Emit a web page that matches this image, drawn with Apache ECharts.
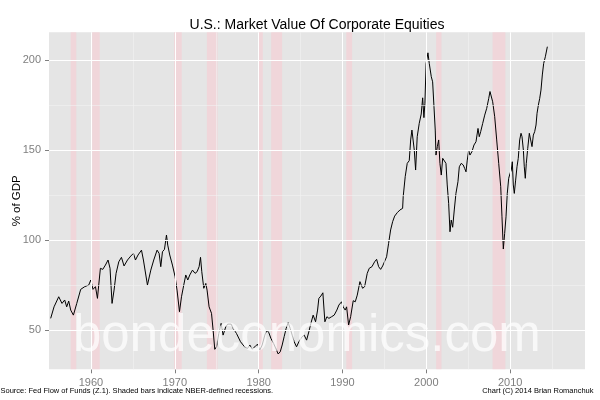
<!DOCTYPE html>
<html>
<head>
<meta charset="utf-8">
<script src="https://cdn.jsdelivr.net/npm/echarts@6/dist/echarts.min.js"></script>
<style>
html,body{margin:0;padding:0;background:#fff;}
#chart{width:600px;height:400px;}
</style>
</head>
<body>
<div id="chart"></div>
<script>
// ---- data ----
const years = [
1955.20,1955.60,1956.16,1956.55,1956.87,1957.11,1957.35,1957.59,1957.91,1958.31,
1958.78,1959.26,1959.74,1959.98,1960.25,1960.54,1960.78,1960.93,1961.13,1961.41,
1961.73,1962.04,1962.28,1962.52,1962.76,1963.00,1963.32,1963.64,1963.95,1964.36,
1964.75,1965.07,1965.31,1965.62,1966.03,1966.26,1966.74,1967.14,1967.49,1967.89,
1968.13,1968.33,1968.53,1968.77,1969.01,1969.16,1969.40,1969.72,1970.04,1970.27,
1970.56,1970.80,1971.07,1971.31,1971.55,1971.79,1972.11,1972.42,1972.66,1972.90,
1973.07,1973.22,1973.46,1973.70,1973.85,1974.09,1974.38,1974.57,1974.77,1974.98,
1975.25,1975.53,1975.76,1976.09,1976.32,1976.72,1976.96,1977.36,1977.84,1978.32,
1978.68,1978.95,1979.22,1979.55,1979.87,1980.14,1980.42,1980.74,1980.98,1981.22,
1981.46,1981.78,1982.09,1982.33,1982.57,1982.81,1983.04,1983.28,1983.52,1983.76,
1984.00,1984.24,1984.52,1984.80,1985.12,1985.43,1985.72,1985.99,1986.23,1986.50,
1986.79,1987.03,1987.18,1987.42,1987.66,1987.90,1988.14,1988.38,1988.70,1989.01,
1989.33,1989.57,1989.89,1990.08,1990.32,1990.49,1990.73,1990.97,1991.28,1991.52,
1991.76,1992.08,1992.40,1992.64,1992.95,1993.19,1993.51,1993.83,1994.07,1994.31,
1994.55,1994.79,1995.02,1995.26,1995.50,1995.74,1995.98,1996.22,1996.53,1996.85,
1997.17,1997.24,1997.48,1997.72,1997.96,1998.13,1998.28,1998.44,1998.56,1998.72,
1998.91,1999.15,1999.39,1999.56,1999.71,1999.83,1999.97,2000.19,2000.35,2000.59,
2000.75,2000.91,2001.06,2001.15,2001.31,2001.47,2001.62,2001.78,2001.95,2002.18,
2002.34,2002.49,2002.66,2002.82,2002.97,2003.14,2003.33,2003.53,2003.77,2003.93,
2004.16,2004.40,2004.57,2004.73,2004.88,2005.05,2005.20,2005.44,2005.68,2005.92,
2006.16,2006.31,2006.48,2006.72,2006.96,2007.20,2007.44,2007.59,2007.75,2007.91,
2008.15,2008.39,2008.63,2008.87,2009.02,2009.18,2009.34,2009.50,2009.65,2009.82,
2009.98,2010.13,2010.25,2010.37,2010.49,2010.65,2010.81,2010.96,2011.13,2011.29,
2011.41,2011.57,2011.68,2011.80,2011.92,2012.09,2012.28,2012.44,2012.60,2012.76,
2012.92,2013.08,2013.20,2013.36,2013.52,2013.67,2013.83,2013.99,2014.19,2014.43
];
const equitiesPctGdp = [
56.5,62.9,68.5,64.8,66.7,62.9,66.1,61.1,58.3,64.8,
72.6,74.1,75.0,77.8,72.6,74.1,67.6,75.0,84.3,83.7,
86.1,88.9,84.3,64.8,72.2,81.5,87.9,90.4,85.6,88.9,
91.1,92.6,88.9,91.7,94.4,88.9,75.0,83.3,88.9,94.4,
92.6,85.2,93.5,94.8,102.8,97.2,91.7,86.1,79.6,72.2,
60.2,68.5,75.0,80.6,77.8,80.6,83.3,81.5,82.4,85.2,
90.4,82.4,73.2,75.9,72.2,62.9,59.3,50.0,39.3,40.7,
48.1,53.7,47.2,51.9,53.3,53.3,50.9,48.1,43.5,40.7,
39.8,41.7,39.4,40.7,42.2,38.9,41.7,47.2,50.0,48.5,
45.4,42.6,39.3,36.7,37.9,41.7,46.3,50.9,54.1,50.9,
47.2,43.5,40.7,43.5,45.9,47.2,44.4,49.1,53.7,58.3,
54.6,61.1,67.6,68.9,70.7,54.6,57.4,56.5,57.4,58.3,
61.1,63.9,65.7,62.9,61.1,62.9,52.8,57.4,66.3,65.7,
69.4,76.9,73.2,74.1,81.5,84.3,85.2,87.9,89.3,85.2,
83.7,85.6,84.8,90.7,98.2,105.6,110.2,113.3,115.2,116.7,
117.6,124.1,135.2,142.6,144.1,155.6,161.1,162.0,150.0,138.9,
157.4,164.8,170.0,179.0,168.0,176.0,198.0,204.0,198.0,190.7,
187.9,174.1,161.1,147.2,151.9,155.6,142.6,136.1,145.4,146.3,
142.6,130.6,120.4,104.6,111.1,107.1,116.7,125.9,132.4,140.7,
142.6,141.7,139.8,137.9,144.4,150.0,147.2,149.1,152.8,154.6,
162.0,157.4,160.2,164.8,169.4,173.2,178.7,182.5,182.4,176.8,
168.5,155.6,142.6,129.6,112.9,95.0,103.7,112.9,125.9,134.3,
137.0,138.9,143.5,130.6,125.9,133.3,140.7,145.4,155.6,159.3,
157.4,150.0,140.7,134.3,142.6,150.9,159.3,155.6,151.9,158.3,
160.2,163.9,170.4,175.0,178.7,183.3,191.7,198.1,201.8,207.4
];
// NBER recessions (start, end) in fractional years
const recessionStart = [1957.58,1960.15,1969.92,1973.83,1980.00,1981.50,1990.45,2001.17,2007.90];
const recessionEnd   = [1958.25,1961.05,1970.83,1975.10,1980.50,1982.80,1991.15,2001.80,2009.42];
// axis ticks and grid lines
const xTickLabels = [1960,1970,1980,1990,2000,2010];
const xMinorGrid  = [1965,1975,1985,1995,2005,2015];
const yTickLabels = [50,100,150,200];
const yMinorGrid  = [75,125,175];

const titleText = 'U.S.: Market Value Of Corporate Equities';
const yAxisTitle = '% of GDP';
const sourceText = 'Source: Fed Flow of Funds (Z.1). Shaded bars indicate NBER-defined recessions.';
const creditText = 'Chart (C) 2014 Brian Romanchuk';
const watermark = 'bondeconomics.com';

// ---- build ----
const lineData = years.map((y, i) => [y, equitiesPctGdp[i]]);
const FONT = '"Liberation Sans", Arial, Helvetica, sans-serif';

const gridLines = []
  .concat(xMinorGrid.map(v => ({xAxis: v, lineStyle: {color: '#F2F2F2', width: 0.6, type: 'solid'}})))
  .concat(yMinorGrid.map(v => ({yAxis: v, lineStyle: {color: '#F2F2F2', width: 0.6, type: 'solid'}})))
  .concat(xTickLabels.map(v => ({xAxis: v, lineStyle: {color: '#FFFFFF', width: 1, type: 'solid'}})))
  .concat(yTickLabels.map(v => ({yAxis: v, lineStyle: {color: '#FFFFFF', width: 1, type: 'solid'}})));

const recessionAreas = recessionStart.map((s, i) => [{xAxis: s}, {xAxis: recessionEnd[i]}]);

const chart = echarts.init(document.getElementById('chart'), null, {renderer: 'canvas'});
chart.setOption({
  animation: false,
  backgroundColor: '#FFFFFF',
  textStyle: {fontFamily: FONT},
  grid: {left: 49, right: 15, top: 32.3, bottom: 30.7, show: true, backgroundColor: '#E5E5E5', borderWidth: 0,
         containLabel: false, outerBoundsMode: 'none'},
  xAxis: {
    type: 'value', min: 1955.0, max: 2018.92,
    axisLine: {show: false},
    splitLine: {show: false},
    axisTick: {show: true, length: 4, lineStyle: {color: '#7F7F7F', width: 1}, customValues: xTickLabels},
    axisLabel: {customValues: xTickLabels, color: '#7F7F7F', fontSize: 11, fontFamily: FONT, margin: 8,
      formatter: v => String(v)}
  },
  yAxis: {
    type: 'value', min: 28.2, max: 215.4,
    name: yAxisTitle, nameLocation: 'middle', nameRotate: 90, nameGap: 26, nameMoveOverlap: false,
    nameTextStyle: {color: '#000000', fontSize: 11.5, fontFamily: FONT},
    axisLine: {show: false},
    splitLine: {show: false},
    axisTick: {show: true, length: 4, lineStyle: {color: '#7F7F7F', width: 1}, customValues: yTickLabels},
    axisLabel: {customValues: yTickLabels, color: '#7F7F7F', fontSize: 11, fontFamily: FONT, margin: 8}
  },
  series: [
    {
      type: 'line', data: lineData, z: 1, silent: true, symbol: 'none',
      lineStyle: {opacity: 0}, tooltip: {show: false},
      markLine: {silent: true, symbol: ['none', 'none'], label: {show: false}, animation: false, data: gridLines}
    },
    {
      type: 'line', data: lineData, z: 2, silent: true, symbol: 'none',
      lineStyle: {opacity: 0},
      markArea: {silent: true, itemStyle: {color: 'rgba(255,192,203,0.42)'}, label: {show: false}, data: recessionAreas}
    },
    {
      type: 'line', data: lineData, z: 3, symbol: 'none', silent: true,
      lineStyle: {color: '#000000', width: 1}
    }
  ],
  graphic: [
    {type: 'text', z: 100, x: 317, y: 24.7,
     style: {text: titleText, font: '14px ' + FONT, fill: '#000000', align: 'center', verticalAlign: 'middle'}},
    {type: 'text', z: 100, x: 73, y: 336.5,
     style: {text: watermark, font: '51px ' + FONT, fill: 'rgba(255,255,255,0.72)', align: 'left', verticalAlign: 'middle'}},
    {type: 'text', z: 100, x: 0.5, y: 391.2,
     style: {text: sourceText, font: '7.5px ' + FONT, fill: '#000000', align: 'left', verticalAlign: 'middle'}},
    {type: 'text', z: 100, x: 593.5, y: 391.2,
     style: {text: creditText, font: '7.5px ' + FONT, fill: '#000000', align: 'right', verticalAlign: 'middle'}}
  ]
});
</script>
</body>
</html>
